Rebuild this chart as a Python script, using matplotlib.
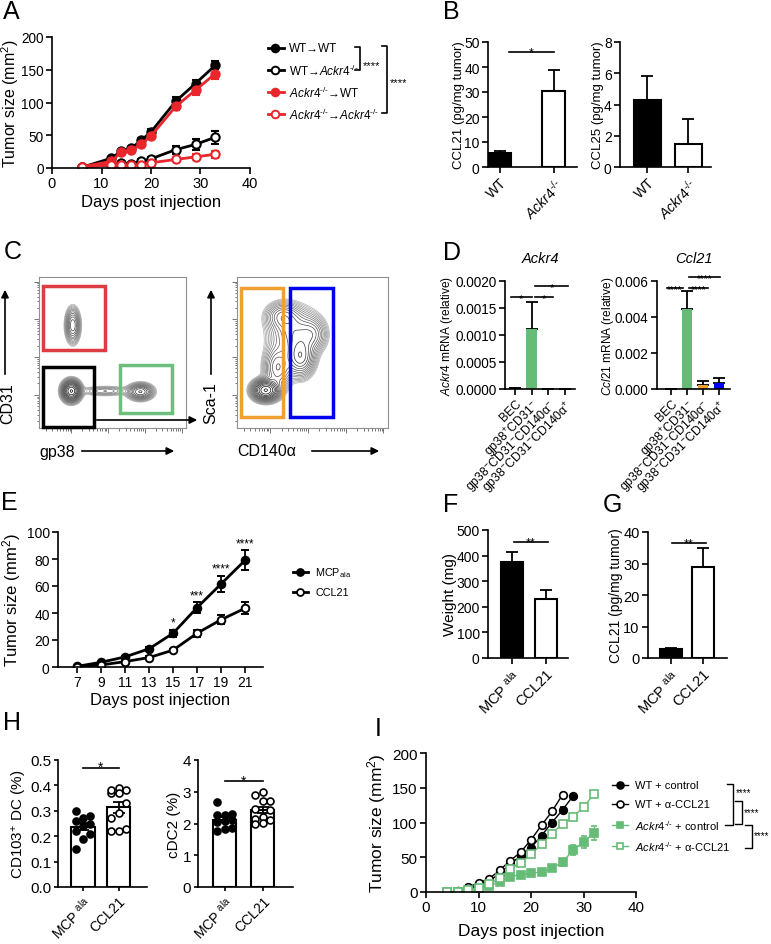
import numpy as np
import matplotlib
matplotlib.use('Agg')
import matplotlib.pyplot as plt
from matplotlib.lines import Line2D
from matplotlib.patches import Rectangle
from matplotlib.transforms import Affine2D

plt.rcParams['font.family'] = ['Liberation Sans', 'DejaVu Sans']
plt.rcParams['mathtext.fontset'] = 'custom'
plt.rcParams['mathtext.rm'] = 'Liberation Sans'
plt.rcParams['mathtext.it'] = 'Liberation Sans:italic'
plt.rcParams['mathtext.bf'] = 'Liberation Sans:bold'
plt.rcParams['axes.linewidth'] = 1.2

# ------------------------------------------------------------------ data
# A: tumour growth, bone marrow chimeras
daysA = [6, 12, 14, 16, 18, 20, 25, 29, 33]
wt_wt = [1, 15, 26, 30, 42, 55, 102, 129, 157]
wt_wt_err = [1, 2, 2, 2, 4, 5, 6, 6, 6]
wt_ko = [1, 5, 7, 6, 10, 14, 28, 36, 47]
wt_ko_err = [1, 2, 2, 2, 3, 3, 6, 8, 10]
ko_wt = [2, 10, 25, 27, 36, 49, 94, 119, 144]
ko_wt_err = [1, 2, 3, 3, 3, 5, 6, 7, 8]
ko_ko = [1, 5, 5, 5, 5, 8, 13, 17, 21]
ko_ko_err = [1, 1, 1, 1, 1, 2, 3, 4, 5]
KO = r'$\mathit{Ackr4}^{\text{-/-}}$'
legendA = ['WT→WT', 'WT→' + KO, KO + '→WT', KO + '→' + KO]

# B: chemokines in tumour
groupsB = ['WT', KO]
ccl21_B = [5.5, 30.5]
ccl21_B_err = [1.0, 8.2]
ccl25_B = [4.3, 1.5]
ccl25_B_err = [1.5, 1.55]

# C: flow plots (gaussian blobs: cx, cy, sx, sy, weight)
flow_left = [(0.23, 0.68, 0.026, 0.06, 0.30), (0.22, 0.245, 0.032, 0.035, 1.0),
             (0.45, 0.245, 0.09, 0.018, 0.10), (0.69, 0.24, 0.045, 0.028, 0.40)]
flow_right = [(0.19, 0.25, 0.045, 0.035, 1.0), (0.27, 0.40, 0.05, 0.08, 0.25),
              (0.42, 0.47, 0.05, 0.07, 0.35), (0.38, 0.63, 0.09, 0.09, 0.22),
              (0.30, 0.74, 0.06, 0.05, 0.18), (0.50, 0.62, 0.05, 0.06, 0.15)]

# D: qPCR
cellsD = ['BEC', r'gp38$^{+}$CD31$^{-}$', r'gp38$^{-}$CD31$^{-}$CD140α$^{-}$',
          r'gp38$^{-}$CD31$^{-}$CD140α$^{+}$']
ackr4_D = [0.00001, 0.00112, 0.000005, 0.0]
ackr4_D_err = [0.0, 0.0005, 0.0, 0.0]
ccl21_D = [0.0, 0.00445, 0.0002, 0.00033]
ccl21_D_err = [0.0, 0.001, 0.00022, 0.0003]

# E: MCPala vs CCL21 tumours
daysE = [7, 9, 11, 13, 15, 17, 19, 21]
mcp_E = [0.5, 3.5, 7.5, 13.5, 25, 44, 61.5, 79]
mcp_E_err = [0.3, 0.5, 0.8, 1, 2.5, 4, 6, 7.5]
ccl21_E = [0.3, 1.5, 4, 7, 12.5, 25, 35, 43.5]
ccl21_E_err = [0.2, 0.4, 0.6, 0.8, 1.2, 2.5, 3.5, 4.5]
starsE = ['', '', '', '', '*', '***', '****', '****']

# F, G
MCP = r'MCP $^{\rm ala}$'
groupsFG = [MCP, 'CCL21']
weight_F = [375, 232]
weight_F_err = [38, 33]
ccl21_G = [2.8, 29]
ccl21_G_err = [0.3, 5.8]

# H: dendritic cells
cd103_mcp = [0.30, 0.28, 0.27, 0.26, 0.25, 0.24, 0.22, 0.21, 0.19, 0.15]
cd103_ccl21 = [0.39, 0.38, 0.37, 0.37, 0.38, 0.33, 0.29, 0.27, 0.23, 0.22, 0.22]
cdc2_mcp = [2.68, 2.30, 2.26, 2.28, 2.10, 2.08, 2.05, 1.85, 1.77, 1.82]
cdc2_ccl21 = [2.98, 2.90, 2.72, 2.70, 2.45, 2.42, 2.14, 2.19, 2.03, 2.00, 2.12]

# I: anti-CCL21 treatment
days_wt_c = [4, 6, 8, 10, 12, 14, 16, 18, 20, 22, 24, 26, 28]
wt_c = [0, 1, 4, 10, 16, 26, 40, 52, 64, 81, 100, 118, 138]
wt_c_err = [0, 0.5, 1, 1, 1.5, 2, 2, 2.5, 3, 3, 3.5, 5, 3]
days_wt_a = [4, 6, 8, 10, 12, 14, 16, 18, 20, 22, 24, 26]
wt_a = [0, 1, 7, 13, 19, 31, 45, 57, 75, 96, 116, 140]
wt_a_err = [0, 0.5, 1, 1, 1.5, 2, 2, 2.5, 3, 3, 3, 3]
days_ko = [4, 6, 8, 10, 12, 14, 16, 18, 20, 22, 24, 26, 28, 30, 32]
ko_c = [0, 0, 2, 4, 9, 14, 22, 25, 27, 29, 34, 43, 60, 72, 85]
ko_c_err = [0, 0, 0.5, 1, 1, 1.5, 2, 2, 2, 2, 3, 5, 7, 9, 10]
ko_a = [0, 0, 3, 6, 11, 20, 33, 42, 54, 69, 84, 98, 108, 122, 141]
ko_a_err = [0, 0, 0.5, 1, 1, 1.5, 2, 2, 2, 2.5, 3, 3, 3, 4, 4]
legendI = ['WT + control', 'WT + α-CCL21', KO + ' + control', KO + ' + α-CCL21']

RED = '#e8262c'
GREEN = '#66bb77'
ORANGE = '#f0a030'
BLUE = '#0000f0'

# ------------------------------------------------------------------ helpers
W, H = 771, 945
fig = plt.figure(figsize=(W / 100, H / 100), dpi=100)
PX = Affine2D().scale(1.0 / W, -1.0 / H).translate(0, 1) + fig.transFigure


def add_ax(l, t, r, b):
    return fig.add_axes([l / W, 1 - b / H, (r - l) / W, (b - t) / H])


def style(ax, ts, tl=4):
    for s in ['top', 'right']:
        ax.spines[s].set_visible(False)
    ax.tick_params(direction='out', length=tl, width=1.2, labelsize=ts, pad=2)


def ylab(ax, text, fs, xr, **kw):
    # xr: right edge of the rotated label in pixels
    ax.set_ylabel(text, fontsize=fs, **kw)
    bb = ax.get_position()
    yc = (1 - (bb.y0 + bb.height / 2)) * H
    ax.yaxis.set_label_coords(xr, yc, transform=PX)


def ftext(x, y, s, **kw):
    fig.text(x, y, s, transform=PX, **kw)


def fline(xs, ys, **kw):
    fig.add_artist(Line2D(xs, ys, transform=PX, **kw))


def fmark(x, y, **kw):
    fig.add_artist(Line2D([x], [y], transform=PX, linestyle='none', **kw))


def bars(ax, vals, errs, faces, width, both=False, edge='black'):
    x = np.arange(len(vals))
    ax.bar(x, vals, width, color=faces, edgecolor=edge, linewidth=1.5, zorder=2)
    lower = errs if both else [0] * len(errs)
    ax.errorbar(x, vals, yerr=[lower, errs], fmt='none', ecolor='black',
                elinewidth=1.3, capsize=4, capthick=1.3, zorder=3 if both else 1)


def sig(ax, x1, x2, y, s, fs=9):
    ax.plot([x1, x2], [y, y], color='black', lw=1.2, clip_on=False)
    ax.annotate(s, xy=((x1 + x2) / 2, y), xytext=(0, -2.5), textcoords='offset points',
                ha='center', va='baseline', fontsize=fs, annotation_clip=False)


def rot_labels(ax, labels, fs):
    ax.set_xticks(range(len(labels)))
    ax.set_xticklabels(labels, rotation=45, ha='right', rotation_mode='anchor', fontsize=fs)


# panel letters
for letter, x, y in [('A', 3, 12), ('B', 443, 12), ('C', 4, 252), ('D', 443, 253),
                     ('E', 1, 503), ('F', 443, 505), ('G', 603, 505), ('H', 3, 723),
                     ('I', 375, 729)]:
    ftext(x, y, letter, fontsize=18, va='center')

# ------------------------------------------------------------------ A
ax = add_ax(52, 38, 250, 169)
style(ax, 9.8)
for vals, errs, c, face in [(wt_wt, wt_wt_err, 'black', 'black'), (wt_ko, wt_ko_err, 'black', 'white'),
                            (ko_wt, ko_wt_err, RED, RED), (ko_ko, ko_ko_err, RED, 'white')]:
    ax.errorbar(daysA, vals, yerr=errs, color=c, lw=2, marker='o', ms=6, mfc=face, mec=c, mew=1.5,
                capsize=3, elinewidth=1.3, capthick=1.3)
ax.set_xlim(0, 40)
ax.set_ylim(0, 200)
ax.set_xticks([0, 10, 20, 30, 40])
ax.set_yticks([0, 50, 100, 150, 200])
ax.tick_params(axis='x', labelsize=10.5)
ax.set_xlabel('Days post injection', fontsize=12, labelpad=3)
ylab(ax, 'Tumor size (mm$^2$)', 11.5, 21.5)
for i, (lab, c, face) in enumerate(zip(legendA, ['black', 'black', RED, RED],
                                       ['black', 'white', RED, 'white'])):
    y = 49 + 22 * i
    fline([268, 284], [y, y], color=c, lw=2)
    fmark(275, y, marker='o', ms=5.5, mfc=face, mec=c, mew=1.4)
    ftext(289, y, lab, fontsize=8.5, va='center')
fline([355, 360, 360, 355], [48, 48, 71, 71], color='black', lw=1.2)
ftext(363, 66, '****', fontsize=8, va='center')
fline([382, 387, 387, 382], [47, 47, 114, 114], color='black', lw=1.2)
ftext(390, 83, '****', fontsize=8, va='center')

# ------------------------------------------------------------------ B
ax = add_ax(488, 43, 577, 168)
style(ax, 10)
bars(ax, ccl21_B, ccl21_B_err, ['black', 'white'], 0.42)
ax.set_xlim(-0.22, 1.43)
ax.set_ylim(0, 50)
ax.set_yticks([0, 10, 20, 30, 40, 50])
rot_labels(ax, groupsB, 10)
ylab(ax, 'CCL21 (pg/mg tumor)', 9.5, 465)
sig(ax, 0.17, 1.0, 46, '*')

ax = add_ax(620, 43, 711, 168)
style(ax, 10)
bars(ax, ccl25_B, ccl25_B_err, ['black', 'white'], 0.66)
ax.set_xlim(-0.66, 1.56)
ax.set_ylim(0, 8)
ax.set_yticks([0, 2, 4, 6, 8])
rot_labels(ax, groupsB, 10)
ylab(ax, 'CCL25 (pg/mg tumor)', 9.5, 604)

# ------------------------------------------------------------------ C
gx, gy = np.meshgrid(np.linspace(0, 1, 300), np.linspace(0, 1, 300))


def flow(ax, comps, gates):
    z = np.zeros_like(gx)
    for cx, cy, sx, sy, w in comps:
        z += w * np.exp(-((gx - cx) ** 2 / (2 * sx ** 2) + (gy - cy) ** 2 / (2 * sy ** 2)))
    levels = np.geomspace(0.02, 0.97, 18) * z.max()
    greys = [str(g) for g in np.linspace(0.7, 0.0, len(levels))]
    ax.contour(gx, gy, z, levels=levels, colors=greys, linewidths=0.5)
    for (x0, y0, x1, y1), c in gates:
        ax.add_patch(Rectangle((x0, y0), x1 - x0, y1 - y0, fill=False, edgecolor=c, lw=2.5,
                               clip_on=False, zorder=5))
    ax.set_xlim(0, 1)
    ax.set_ylim(0, 1)
    for s in ax.spines.values():
        s.set_color('#909090')
        s.set_linewidth(0.8)
    major = [0.22, 0.47, 0.72, 0.97]
    minor = [m + np.log10(k) * 0.25 for m in [-0.03, 0.22, 0.47, 0.72] for k in range(2, 10)]
    minor = [m for m in minor if 0 < m < 1]
    ax.set_xticks(major)
    ax.set_yticks(major)
    ax.set_xticks(minor, minor=True)
    ax.set_yticks(minor, minor=True)
    ax.tick_params(which='both', direction='out', labelleft=False, labelbottom=False,
                   color='#606060', width=0.6, top=False, right=False)
    ax.tick_params(which='major', length=3.5)
    ax.tick_params(which='minor', length=1.8)


ax = add_ax(39, 278, 186, 429)
flow(ax, flow_left, [((0.027, 0.517, 0.449, 0.94), '#dd3c42'), ((0.027, 0.005, 0.374, 0.404), 'black'),
                     ((0.551, 0.099, 0.905, 0.417), '#6cbf7c')])
ax = add_ax(237, 278, 388, 429)
flow(ax, flow_right, [((0.026, 0.073, 0.305, 0.927), ORANGE), ((0.351, 0.073, 0.636, 0.927), BLUE)])

arrow = dict(arrowstyle='-|>', color='black', lw=1.2, mutation_scale=11)
for (x0, y0), (x1, y1) in [((94, 421), (200, 421)), ((5, 378), (5, 288)), ((211, 378), (211, 288)),
                           ((79, 452), (177, 452)), ((309, 452), (382, 452))]:
    ax.annotate('', xy=(x1, y1), xytext=(x0, y0), xycoords=PX, textcoords=PX,
                arrowprops=arrow, annotation_clip=False)
ftext(8, 404, 'CD31', fontsize=11.5, rotation=90, ha='center', va='center')
ftext(211, 403, 'Sca-1', fontsize=11.5, rotation=90, ha='center', va='center')
ftext(39, 452, 'gp38', fontsize=11.5, va='center')
ftext(237, 452, 'CD140α', fontsize=11.5, va='center')

# ------------------------------------------------------------------ D
ax = add_ax(505, 282, 575, 390)
style(ax, 9.8)
bars(ax, ackr4_D, ackr4_D_err, ['black', GREEN, ORANGE, BLUE], 0.66, edge='none')
ax.set_xlim(-0.6, 3.6)
ax.set_ylim(0, 0.002)
ax.set_yticks([0, 0.0005, 0.001, 0.0015, 0.002])
ax.set_yticklabels(['0.0000', '0.0005', '0.0010', '0.0015', '0.0020'])
rot_labels(ax, cellsD, 8.8)
ylab(ax, r'$\mathit{Ackr4}$ mRNA (relative)', 8.6, 455)
ax.set_title('Ackr4', fontsize=10.5, style='italic', pad=14)
sig(ax, -0.24, 1.0, 0.0017, '*', 8)
sig(ax, 1.2, 2.3, 0.0017, '*', 8)
sig(ax, 1.2, 3.2, 0.0019, '*', 8)

ax = add_ax(657, 282, 730, 390)
style(ax, 9.8)
bars(ax, ccl21_D, ccl21_D_err, ['black', GREEN, ORANGE, BLUE], 0.66, edge='none')
ax.set_xlim(-0.875, 3.69)
ax.set_ylim(0, 0.006)
ax.set_yticks([0, 0.002, 0.004, 0.006])
ax.set_yticklabels(['0.000', '0.002', '0.004', '0.006'])
rot_labels(ax, cellsD, 8.8)
ylab(ax, r'$\mathit{Ccl21}$ mRNA (relative)', 8.6, 616)
ax.set_title('Ccl21', fontsize=10.5, style='italic', pad=14)
sig(ax, -0.25, 0.75, 0.0056, '****', 7)
sig(ax, 1.1, 2.3, 0.0056, '****', 7)
sig(ax, 1.1, 3.06, 0.0062, '****', 7)

# ------------------------------------------------------------------ E
ax = add_ax(58, 533, 263, 668)
style(ax, 10)
ax.errorbar(daysE, mcp_E, yerr=mcp_E_err, color='black', lw=2, marker='o', ms=5.5, mfc='black',
            mew=1.4, capsize=3, elinewidth=1.3, capthick=1.3)
ax.errorbar(daysE, ccl21_E, yerr=ccl21_E_err, color='black', lw=2, marker='o', ms=5.5, mfc='white',
            mew=1.4, capsize=3, elinewidth=1.3, capthick=1.3)
for d, v, e, s in zip(daysE, mcp_E, mcp_E_err, starsE):
    if s:
        ax.annotate(s, xy=(d, v + e), xytext=(0, 3), textcoords='offset points', ha='center',
                    va='baseline', fontsize=8.5)
ax.set_xlim(5.4, 22.5)
ax.set_ylim(0, 100)
ax.set_xticks(daysE)
ax.set_yticks([0, 20, 40, 60, 80, 100])
ax.set_xlabel('Days post injection', fontsize=12, labelpad=2)
ylab(ax, 'Tumor size (mm$^2$)', 12, 23)
for y, face, lab in [(573, 'black', r'MCP$_{\rm ala}$'), (593, 'white', 'CCL21')]:
    fline([293, 308], [y, y], color='black', lw=2)
    fmark(300, y, marker='o', ms=5, mfc=face, mec='black', mew=1.3)
    ftext(315, y, lab, fontsize=7.8, va='center')

# ------------------------------------------------------------------ F
ax = add_ax(488, 531, 568, 659)
style(ax, 10)
bars(ax, weight_F, weight_F_err, ['black', 'white'], 0.65)
ax.set_xlim(-0.7, 1.65)
ax.set_ylim(0, 500)
ax.set_yticks([0, 100, 200, 300, 400, 500])
rot_labels(ax, groupsFG, 10.5)
ylab(ax, 'Weight (mg)', 11, 457)
sig(ax, 0.06, 1.06, 455, '**')

# ------------------------------------------------------------------ G
ax = add_ax(648, 533, 727, 659)
style(ax, 10.5)
bars(ax, ccl21_G, ccl21_G_err, ['black', 'white'], 0.69)
ax.set_xlim(-0.72, 1.75)
ax.set_ylim(0, 40)
ax.set_yticks([0, 10, 20, 30, 40])
rot_labels(ax, groupsFG, 10.5)
ylab(ax, 'CCL21 (pg/mg tumor)', 10, 623)
sig(ax, 0.03, 1.1, 36.5, '**')


# ------------------------------------------------------------------ H
def dots(ax, groups, width, ylim, ticks, ylabel, xr, sigy):
    style(ax, 11, tl=3)
    means = [np.mean(g) for g in groups]
    sems = [np.std(g, ddof=1) / np.sqrt(len(g)) for g in groups]
    bars(ax, means, sems, ['white', 'white'], width, both=True)
    offs = [-0.2, 0.0, 0.2]
    for i, (g, face) in enumerate(zip(groups, ['black', 'white'])):
        order = np.argsort(g)
        xs = np.empty(len(g))
        xs[order] = [i + offs[k % 3] for k in range(len(g))]
        ax.plot(xs, g, 'o', ms=5, mfc=face, mec='black', mew=1.2, zorder=4)
    ax.set_xlim(-0.7, 1.8)
    ax.set_ylim(*ylim)
    ax.set_yticks(ticks)
    rot_labels(ax, groupsFG, 10)
    ylab(ax, ylabel, 11, xr)
    sig(ax, 0.0, 1.0, sigy, '*', 10)


ax = add_ax(58, 761, 147, 888)
dots(ax, [cd103_mcp, cd103_ccl21], 0.67, (0, 0.5), [0, 0.1, 0.2, 0.3, 0.4, 0.5],
     r'CD103$^{+}$ DC (%)', 29, 0.47)
ax.set_yticklabels(['0.0', '0.1', '0.2', '0.3', '0.4', '0.5'])
ax = add_ax(198, 761, 293, 888)
dots(ax, [cdc2_mcp, cdc2_ccl21], 0.62, (0, 4), [0, 1, 2, 3, 4], 'cDC2 (%)', 181, 3.34)

# ------------------------------------------------------------------ I
ax = add_ax(426, 754, 636, 893)
style(ax, 11)
for d, v, e, c, m, face in [(days_wt_c, wt_c, wt_c_err, 'black', 'o', 'black'),
                            (days_wt_a, wt_a, wt_a_err, 'black', 'o', 'white'),
                            (days_ko, ko_c, ko_c_err, GREEN, 's', GREEN),
                            (days_ko, ko_a, ko_a_err, GREEN, 's', 'white')]:
    ax.errorbar(d, v, yerr=e, color=c, lw=1, marker=m, ms=5.5, mfc=face, mec=c, mew=1.2,
                capsize=2.5, elinewidth=1, capthick=1)
ax.set_xlim(0, 40)
ax.set_ylim(0, 200)
ax.set_xticks([0, 10, 20, 30, 40])
ax.set_yticks([0, 50, 100, 150, 200])
ax.set_xlabel('Days post injection', fontsize=12.5, labelpad=6)
ylab(ax, 'Tumor size (mm$^2$)', 12.5, 388)
for y, lab, c, m, face in zip([786, 805, 826, 847], legendI, ['black', 'black', GREEN, GREEN],
                              ['o', 'o', 's', 's'], ['black', 'white', GREEN, 'white']):
    fline([612, 628], [y, y], color=c, lw=1)
    fmark(620, y, marker=m, ms=5, mfc=face, mec=c, mew=1.2)
    ftext(635, y, lab, fontsize=8, va='center')
fline([727, 733, 733, 725], [785, 785, 826, 826], color='black', lw=1)
ftext(736, 793, '****', fontsize=7, va='center')
fline([735, 742, 742, 735], [802, 802, 825, 825], color='black', lw=1)
ftext(744, 813, '****', fontsize=7, va='center')
fline([745, 752, 752, 745], [826, 826, 849, 849], color='black', lw=1)
ftext(754, 836, '****', fontsize=7, va='center')

fig.savefig('out.png', dpi=100)
